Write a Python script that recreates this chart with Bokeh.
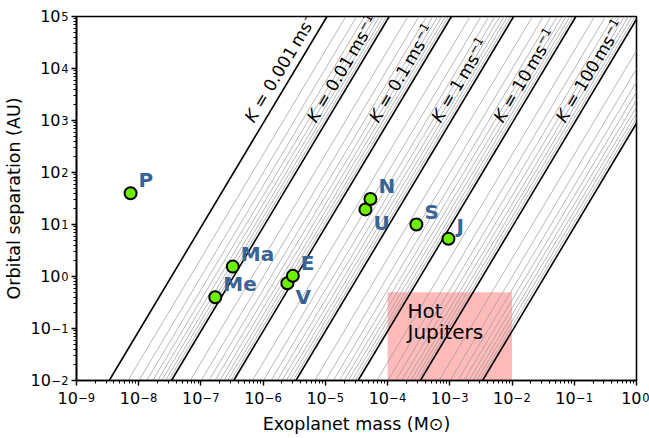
import math
from bokeh.plotting import figure
from bokeh.models import Range1d, ColumnDataSource, CustomJSTickFormatter, FixedTicker, LogAxis
from bokeh.core.properties import value
from bokeh.embed import file_html
from bokeh.resources import INLINE

# ---------------- data ----------------
planet_names = ["Me", "V", "E", "Ma", "J", "S", "U", "N", "P"]
planet_mass = [1.70e-7, 2.45e-6, 3.0e-6, 3.25e-7, 9.5e-4, 2.9e-4, 4.4e-5, 5.3e-5, 7.4e-9]   # M_sun
planet_sep = [0.40, 0.74, 1.03, 1.55, 5.3, 10.0, 19.5, 31.0, 39.8]                          # AU
labels_below = ["V", "U"]

k_major = [0.001, 0.01, 0.1, 1, 10, 100, 1000]          # m/s, thick lines
k_labelled = [0.001, 0.01, 0.1, 1, 10, 100]
k_label_text = ["0.001", "0.01", "0.1", "1", "10", "100"]
k_minor_mult = [2, 3, 4, 5, 6, 7, 8, 9]
k_minor_decades = [0.001, 0.01, 0.1, 1, 10, 100]

hot_jup_mass = [1e-4, 1e-2]
hot_jup_sep = [1e-2, 0.5]
hot_jup_text = ["Hot", "Jupiters"]

x_limits = [1e-9, 1.0]
y_limits = [1e-2, 1e5]
x_ticks = [1e-9, 1e-8, 1e-7, 1e-6, 1e-5, 1e-4, 1e-3, 1e-2, 1e-1, 1.0]
y_ticks = [1e-2, 1e-1, 1.0, 1e1, 1e2, 1e3, 1e4, 1e5]
V_ORB = 29785.0  # sqrt(G M_sun / 1 AU) in m/s  ->  K = V_ORB * m / sqrt(a)

# ---------------- layout ----------------
W, H = 649, 438
BL, BR, BT, BB = 76, 13, 16, 58
FW, FH = W - BL - BR, H - BT - BB
ang = math.atan2(2 * FH / 7.0, FW / 9.0)
ca, sa = math.cos(ang), math.sin(ang)

FONT = "DejaVu Sans"
BFIX = 0.4   # rendered alphabetic baseline sits this many em lower than requested

EM = {"0": 0.636, "1": 0.636, "2": 0.636, "3": 0.636, "4": 0.636, "5": 0.636, "6": 0.636,
      "7": 0.636, "8": 0.636, "9": 0.636, ".": 0.318, " ": 0.318, "\u00a0": 0.318, "=": 0.838,
      "m": 0.974, "s": 0.521, "\u2212": 0.838, "\u2009": 0.2}


def tw(s, size):
    return sum(EM.get(c, 0.6) for c in s) * size


p = figure(width=W, height=H, x_axis_type="log", y_axis_type="log",
           x_range=Range1d(*x_limits), y_range=Range1d(*y_limits),
           output_backend="svg", toolbar_location=None,
           min_border_left=BL, min_border_right=BR, min_border_top=BT, min_border_bottom=BB)
p.background_fill_color = "white"
p.border_fill_color = "white"
p.xgrid.visible = False
p.ygrid.visible = False
p.outline_line_color = "black"
p.outline_line_width = 1.6
p.outline_line_alpha = 1.0

# Hot Jupiter region
p.quad(left=[hot_jup_mass[0]], right=[hot_jup_mass[1]], bottom=[hot_jup_sep[0]], top=[hot_jup_sep[1]],
       fill_color="red", fill_alpha=0.27, line_color=None)


def line_ends(k):
    xs = [math.sqrt(a) * k / V_ORB for a in y_limits]
    return xs, list(y_limits)


thin_xs, thin_ys = [], []
for dec in k_minor_decades:
    for mlt in k_minor_mult:
        xs, ys = line_ends(dec * mlt)
        thin_xs.append(xs)
        thin_ys.append(ys)
p.multi_line(thin_xs, thin_ys, line_color="#9a9a9a", line_width=0.7)

thick_xs, thick_ys = [], []
for k in k_major:
    xs, ys = line_ends(k)
    thick_xs.append(xs)
    thick_ys.append(ys)
p.multi_line(thick_xs, thick_ys, line_color="black", line_width=1.6)

# ---------------- K labels ----------------
label_loga = 2.93
lab_a = 10 ** label_loga
lab_x = [math.sqrt(lab_a) * k / V_ORB for k in k_labelled]
lab_y = [lab_a] * len(k_labelled)
k_fs = 17
k_sup = 12
perp = 13.5
along0 = -4.0


def off(along, up):
    return along * ca - up * sa, -along * sa - up * ca


wK = 0.656 * k_fs
mid = ["\u00a0=\u00a0" + t + "\u2009ms" for t in k_label_text]
sup_txt = ["\u22121"] * len(k_labelled)

ox, oy = off(along0, perp)
p.text(x=lab_x, y=lab_y, text=["K"] * len(lab_x), angle=ang,
       text_font=value(FONT), text_font_size=f"{k_fs}px", text_font_style="italic",
       text_align="left", text_baseline="alphabetic", x_offset=ox, y_offset=oy, text_color="black")
ox, oy = off(along0 + wK, perp)
p.text(x=lab_x, y=lab_y, text=mid, angle=ang,
       text_font=value(FONT), text_font_size=f"{k_fs}px",
       text_align="left", text_baseline="alphabetic", x_offset=ox, y_offset=oy, text_color="black")
sx, sy = [], []
for m in mid:
    a_, b_ = off(along0 + wK + tw(m, k_fs) + 0.5, perp + 4.5)
    sx.append(a_)
    sy.append(b_)
p.text(x=lab_x, y=lab_y, text=sup_txt, angle=ang, x_offset=sx, y_offset=sy,
       text_font=value(FONT), text_font_size=f"{k_sup}px",
       text_align="left", text_baseline="alphabetic", text_color="black")

# ---------------- planets ----------------
p.scatter(planet_mass, planet_sep, size=12, fill_color="#6cf000", line_color="black", line_width=2)
src = ColumnDataSource(dict(
    x=planet_mass, y=planet_sep, t=planet_names,
    dy=[(22 if n in labels_below else -5) - BFIX * 20 for n in planet_names],
))
p.text(x="x", y="y", text="t", source=src, x_offset=8, y_offset="dy",
       text_font=value(FONT), text_font_size="20px", text_font_style="bold",
       text_color="#386496", text_align="left", text_baseline="alphabetic")

# Hot Jupiters label
hx = 10 ** -3.68
hy = 10 ** -0.826
p.text(x=[hx, hx], y=[hy, hy], text=hot_jup_text, y_offset=[-BFIX * 20, 21 - BFIX * 20],
       text_font=value(FONT), text_font_size="20px", text_color="black",
       text_align="left", text_baseline="alphabetic")

# ---------------- axes: "10" and exponent drawn by two stacked axes ----------------
TF, SF = "16px", "11.5px"
ten_fmt = CustomJSTickFormatter(code="""
const e = Math.round(Math.log10(tick));
return e < 0 ? '10\u2002\u2002\u200a' : '10\u2002';
""")
exp_fmt_x = CustomJSTickFormatter(code="""
const e = Math.round(Math.log10(tick));
return '\u2007\u2007\u2002' + (e < 0 ? '\u2212' : '') + String(Math.abs(e));
""")
exp_fmt_y = CustomJSTickFormatter(code="""
const e = Math.round(Math.log10(tick));
return (e < 0 ? '\u2212' : '') + String(Math.abs(e));
""")


def minors(ticks):
    out = []
    for t in ticks[:-1]:
        for mlt in range(2, 10):
            out.append(t * mlt)
    return out


def style_main(ax):
    ax.axis_line_width = 1.6
    ax.axis_line_color = "black"
    ax.major_tick_line_width = 1.4
    ax.major_tick_line_color = "black"
    ax.major_tick_out = 5
    ax.major_tick_in = 0
    ax.minor_tick_out = 3
    ax.minor_tick_in = 0
    ax.minor_tick_line_width = 1
    ax.minor_tick_line_color = "black"
    ax.major_label_text_font = FONT
    ax.major_label_text_color = "black"


def style_aux(ax):
    ax.axis_line_color = None
    ax.major_tick_line_color = None
    ax.minor_tick_line_color = None
    ax.major_tick_out = 0
    ax.major_tick_in = 0
    ax.minor_tick_out = 0
    ax.minor_tick_in = 0
    ax.major_label_text_font = FONT
    ax.major_label_text_color = "black"
    ax.axis_label_text_font = FONT
    ax.axis_label_text_font_size = "17.5px"
    ax.axis_label_text_font_style = "normal"
    ax.axis_label_text_color = "black"


# x axis: nearest carries ticks + "10", outer carries exponents + title
xa = p.xaxis[0]
xa.ticker = FixedTicker(ticks=x_ticks, minor_ticks=minors(x_ticks))
xa.formatter = ten_fmt
style_main(xa)
xa.major_label_text_font_size = TF
xa.major_label_standoff = 3

xe = LogAxis(ticker=FixedTicker(ticks=x_ticks, minor_ticks=[]), formatter=exp_fmt_x,
             axis_label="Exoplanet mass (M\u2299)")
style_aux(xe)
xe.major_label_text_font_size = SF
xe.major_label_standoff = -20
xe.axis_label_standoff = 6
p.add_layout(xe, "below")

# y axis: nearest carries ticks + exponent, outer carries "10" + title
ya = p.yaxis[0]
ya.ticker = FixedTicker(ticks=y_ticks, minor_ticks=minors(y_ticks))
ya.formatter = exp_fmt_y
style_main(ya)
ya.major_label_text_font_size = SF
ya.major_label_text_baseline = "alphabetic"
ya.major_label_standoff = 3

ye = LogAxis(ticker=FixedTicker(ticks=y_ticks, minor_ticks=[]), formatter=ten_fmt,
             axis_label="Orbital separation (AU)")
style_aux(ye)
ye.major_label_text_font_size = TF
ye.major_label_standoff = -20
ye.axis_label_standoff = 4
p.add_layout(ye, "left")

open("out.html", "w").write(file_html(p, INLINE))
